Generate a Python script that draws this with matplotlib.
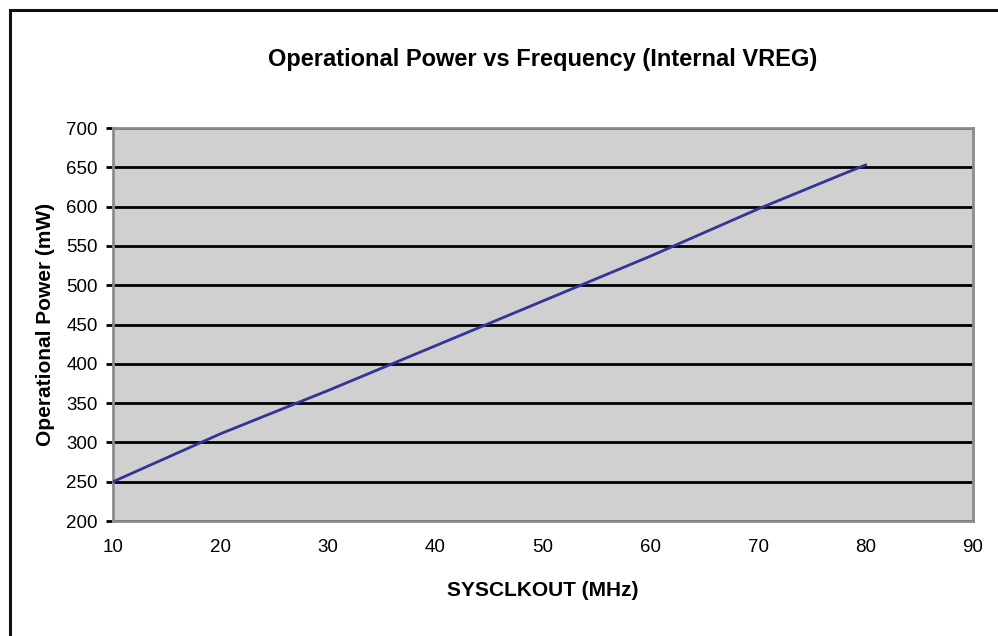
import matplotlib.pyplot as plt
from matplotlib.patches import Rectangle

# Datos
sysclkout = [10, 20, 30, 40, 50, 60, 70, 78, 80]
potencia = [250, 311, 366, 423, 480, 537, 597, 642, 653]

x_ticks = [10, 20, 30, 40, 50, 60, 70, 80, 90]
y_ticks = [200, 250, 300, 350, 400, 450, 500, 550, 600, 650, 700]

plt.rcParams['font.family'] = ['Liberation Sans', 'DejaVu Sans']

fig = plt.figure(figsize=(9.98, 6.36), dpi=100)
ax = fig.add_axes([0.1132, 0.1808, 0.8618, 0.6179])

# Marco exterior
fig.patches.append(Rectangle((10 / 998, -0.1), 1.2, 1 - 9.5 / 636 + 0.1,
                             transform=fig.transFigure, fill=False,
                             edgecolor='#111111', linewidth=2.2))

ax.set_facecolor('#d0d0d0')
ax.plot(sysclkout, potencia, color='#333399', linewidth=2, zorder=3)

ax.set_xlim(10, 90)
ax.set_ylim(200, 700)
ax.set_xticks(x_ticks)
ax.set_yticks(y_ticks)
ax.yaxis.grid(True, color='black', linewidth=2)
ax.set_axisbelow(True)

for s in ax.spines.values():
    s.set_color('#8c8c8c')
    s.set_linewidth(2)

ax.tick_params(axis='y', length=5, width=2, color='black', labelsize=13.5, pad=6)
ax.tick_params(axis='x', length=0, labelsize=13.5, pad=13)

ax.set_title('Operational Power vs Frequency (Internal VREG)',
             fontsize=17, fontweight='bold', pad=45)
ax.set_xlabel('SYSCLKOUT (MHz)', fontsize=15, fontweight='bold', labelpad=18)
ax.set_ylabel('Operational Power (mW)', fontsize=15, fontweight='bold', labelpad=8)

fig.savefig('out.png', dpi=100)
